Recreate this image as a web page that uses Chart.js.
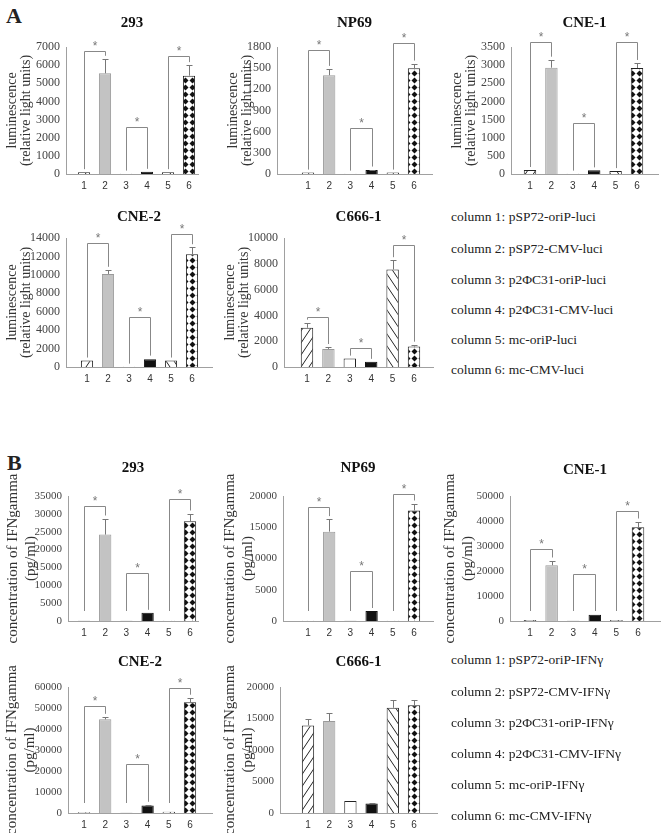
<!DOCTYPE html>
<html>
<head>
<meta charset="utf-8">
<script src="https://cdn.jsdelivr.net/npm/chart.js@4.4.0/dist/chart.umd.min.js"></script>
<style>
    body { margin: 0; background: #fff; }
    #fig { position: relative; width: 662px; height: 833px; overflow: hidden; color: #222;
           font-family: "Liberation Serif", "Times New Roman", serif; }
    #fig canvas { position: absolute; }
    .panel { position: absolute; font-weight: bold; font-size: 22px; line-height: 24px; }
    .leg { position: absolute; font-size: 13.5px; line-height: 16px; white-space: nowrap; }
</style>
</head>
<body>
<div id="fig"></div>
<script>
const cols = [1, 2, 3, 4, 5, 6];
const cellLines = ['293', 'NP69', 'CNE-1', 'CNE-2', 'C666-1'];
const bracketPairs = [[1, 2], [3, 4], [5, 6]];

// A: luciferase, relative light units
const luc293 = [100, 5550, 20, 120, 100, 5420];
const lucNP69 = [20, 1400, 5, 55, 20, 1500];
const lucCNE1 = [110, 2930, 10, 100, 80, 2920];
const lucCNE2 = [700, 10100, 40, 830, 700, 12250];
const lucC666 = [3040, 1400, 650, 400, 7560, 1580];
const lucErr293 = [0, 800, 0, 0, 0, 580];
const lucErrNP69 = [0, 90, 0, 8, 0, 65];
const lucErrCNE1 = [0, 220, 0, 0, 0, 140];
const lucErrCNE2 = [0, 450, 0, 80, 0, 750];
const lucErrC666 = [400, 150, 0, 0, 720, 150];
const lucSig293 = [6800, 2600, 6500];
const lucSigNP69 = [1760, 650, 1850];
const lucSigCNE1 = [3640, 1400, 3650];
const lucSigCNE2 = [13450, 5450, 14400];
const lucSigC666 = [3900, 1480, 9450];
const lucYMax = [7000, 1800, 3500, 14000, 10000];
const lucYStep = [1000, 300, 500, 2000, 2000];

// B: IFNgamma, pg/ml
const ifn293 = [50, 24200, 50, 2300, 100, 27900];
const ifnNP69 = [50, 14300, 30, 1600, 50, 17700];
const ifnCNE1 = [400, 22300, 100, 2500, 400, 37500];
const ifnCNE2 = [400, 44600, 100, 3600, 600, 52700];
const ifnC666 = [13900, 14600, 1900, 1500, 16700, 17100];
const ifnErr293 = [0, 4500, 0, 0, 0, 2200];
const ifnErrNP69 = [0, 2000, 0, 0, 0, 1100];
const ifnErrCNE1 = [0, 1900, 0, 0, 0, 2300];
const ifnErrCNE2 = [0, 1200, 0, 300, 0, 2200];
const ifnErrC666 = [1000, 1300, 0, 100, 1200, 900];
const ifnSig293 = [32300, 13500, 34300];
const ifnSigNP69 = [18200, 8000, 20400];
const ifnSigCNE1 = [29000, 19000, 44000];
const ifnSigCNE2 = [51000, 23500, 59500];
const ifnSigC666 = [];
const ifnYMax = [35000, 20000, 50000, 60000, 20000];
const ifnYStep = [5000, 5000, 10000, 10000, 5000];

const legendA = ['column 1: pSP72-oriP-luci', 'column 2: pSP72-CMV-luci', 'column 3: p2ΦC31-oriP-luci',
    'column 4: p2ΦC31-CMV-luci', 'column 5: mc-oriP-luci', 'column 6: mc-CMV-luci'];
const legendB = ['column 1: pSP72-oriP-IFNγ', 'column 2: pSP72-CMV-IFNγ', 'column 3: p2ΦC31-oriP-IFNγ',
    'column 4: p2ΦC31-CMV-IFNγ', 'column 5: mc-oriP-IFNγ', 'column 6: mc-CMV-IFNγ'];

const SERIF = '"Liberation Serif", "Times New Roman", serif';
const SANS = '"Liberation Sans", Arial, sans-serif';
const fig = document.getElementById('fig');

// page layout of each small chart (pixels)
const layoutA = [
    { left: 0,   ty: 23,  ct: 47,  cb: 174, cl: 66,  cr: 198, x1: 84,  x6: 189, yt: 12 },
    { left: 215, ty: 23,  ct: 47,  cb: 174, cl: 277, cr: 432, x1: 308, x6: 414, yt: 233 },
    { left: 440, ty: 23,  ct: 47,  cb: 174, cl: 511, cr: 658, x1: 530, x6: 637, yt: 457 },
    { left: 0,   ty: 217, ct: 238, cb: 367, cl: 66,  cr: 212, x1: 87,  x6: 192, yt: 12 },
    { left: 215, ty: 217, ct: 238, cb: 367, cl: 284, cr: 433, x1: 307, x6: 414, yt: 230 }
];
const layoutB = [
    { left: 0,   ty: 468, ct: 496, cb: 621, cl: 68,  cr: 198, x1: 84,  x6: 190, yt: 13 },
    { left: 215, ty: 468, ct: 496, cb: 621, cl: 283, cr: 433, x1: 308, x6: 414, yt: 230 },
    { left: 440, ty: 470, ct: 496, cb: 621, cl: 510, cr: 660, x1: 530, x6: 638, yt: 450 },
    { left: 0,   ty: 662, ct: 687, cb: 813, cl: 68,  cr: 212, x1: 84,  x6: 190, yt: 12 },
    { left: 215, ty: 662, ct: 687, cb: 813, cl: 280, cr: 437, x1: 308, x6: 414, yt: 230 }
];

function hatch(dir) {
    const c = document.createElement('canvas');
    c.width = 8; c.height = 12;
    const g = c.getContext('2d');
    g.fillStyle = '#fff';
    g.fillRect(0, 0, 8, 12);
    g.strokeStyle = '#222';
    g.lineWidth = 1;
    g.beginPath();
    for (const k of [-8, 0, 8]) {
        if (dir > 0) { g.moveTo(k, 12); g.lineTo(k + 8, 0); }
        else { g.moveTo(k, 0); g.lineTo(k + 8, 12); }
    }
    g.stroke();
    return g.createPattern(c, 'repeat');
}

function diamonds() {
    const c = document.createElement('canvas');
    c.width = 7; c.height = 7;
    const g = c.getContext('2d');
    g.fillStyle = '#fff';
    g.fillRect(0, 0, 7, 7);
    g.fillStyle = '#111';
    g.beginPath();
    g.moveTo(3.5, 0.5); g.lineTo(6.5, 3.5); g.lineTo(3.5, 6.5); g.lineTo(0.5, 3.5);
    g.closePath();
    g.fill();
    return g.createPattern(c, 'repeat');
}

const fills = [hatch(1), '#c3c3c3', '#fff', '#111', hatch(-1), diamonds()];
const edges = ['#222', '#9a9a9a', '#222', '#111', '#222', '#222'];

// error bars and significance brackets
const marksPlugin = {
    id: 'marks',
    afterDatasetsDraw(chart, args, opts) {
        const { ctx } = chart;
        const x = chart.scales.x, y = chart.scales.y;
        const ds = chart.data.datasets[0];
        const vals = ds.data.map(d => d.y);
        const err = ds.err;
        const zero = y.getPixelForValue(0);
        const px = c => Math.round(x.getPixelForValue(c)) + 0.5;
        ctx.save();
        ctx.lineWidth = 1;
        ctx.strokeStyle = '#777';
        err.forEach((e, i) => {
            if (!e) return;
            const xc = px(cols[i]);
            const y0 = y.getPixelForValue(vals[i]);
            const y1 = Math.round(y.getPixelForValue(vals[i] + e)) + 0.5;
            ctx.beginPath();
            ctx.moveTo(xc, y0); ctx.lineTo(xc, y1);
            ctx.moveTo(xc - 3, y1); ctx.lineTo(xc + 3, y1);
            ctx.stroke();
        });
        const legEnd = i => Math.min(y.getPixelForValue(vals[i] + err[i]) - opts.gap, zero - opts.minGap);
        ctx.strokeStyle = '#888';
        ctx.fillStyle = '#777';
        ctx.font = '12px ' + SANS;
        ctx.textAlign = 'center';
        ctx.textBaseline = 'middle';
        ds.sig.forEach((top, k) => {
            const [a, b] = bracketPairs[k];
            const xa = px(a), xb = px(b);
            const yt = Math.round(y.getPixelForValue(top)) + 0.5;
            ctx.beginPath();
            ctx.moveTo(xa, legEnd(a - 1));
            ctx.lineTo(xa, yt);
            ctx.lineTo(xb, yt);
            ctx.lineTo(xb, legEnd(b - 1));
            ctx.stroke();
            ctx.fillText('*', (xa + xb) / 2, yt - 5);
        });
        ctx.restore();
    }
};

function makeChart(p, title, vals, err, sig, yMax, yStep, yTitle, st) {
    const lh = 18;
    const top = p.ty - lh / 2;
    const padRight = 4;
    const xh = 26;
    const cv = document.createElement('canvas');
    cv.width = p.cr + padRight - p.left;
    cv.height = p.cb + xh - top;
    cv.style.left = p.left + 'px';
    cv.style.top = top + 'px';
    fig.appendChild(cv);

    const s = (p.x6 - p.x1) / 5;
    const xMin = 1 - (p.x1 - p.cl) / s;
    const xMax = 6 + (p.cr - p.x6) / s;

    new Chart(cv, {
        type: 'bar',
        data: {
            datasets: [{
                data: cols.map((c, i) => ({ x: c, y: vals[i] })),
                err,
                sig,
                backgroundColor: fills,
                borderColor: edges,
                borderWidth: 1,
                categoryPercentage: 1,
                barPercentage: 0.58
            }]
        },
        options: {
            responsive: false,
            animation: false,
            layout: { padding: { top: 0, left: 0, right: padRight, bottom: 0 } },
            plugins: {
                legend: { display: false },
                tooltip: { enabled: false },
                title: {
                    display: true, text: title, fullSize: false, color: '#111',
                    font: { family: SERIF, size: 15, weight: 'bold', lineHeight: 1.2 },
                    padding: { top: 0, bottom: p.ct - p.ty - lh / 2 }
                },
                marks: { gap: st.gap, minGap: st.minGap }
            },
            scales: {
                x: {
                    type: 'linear', min: xMin, max: xMax, offset: false,
                    grid: { display: false, drawTicks: false },
                    border: { color: '#a0a0a0' },
                    afterBuildTicks: sc => { sc.ticks = cols.map(v => ({ value: v })); },
                    afterFit: sc => { sc.height = xh; },
                    ticks: { font: { family: SANS, size: 10 }, color: '#333', padding: 6 }
                },
                y: {
                    min: 0, max: yMax,
                    grid: { display: false, drawTicks: false },
                    border: { color: '#a0a0a0' },
                    afterFit: sc => { sc.width = p.cl - p.left; },
                    ticks: {
                        stepSize: yStep, font: { family: SERIF, size: st.tick }, color: '#444', padding: 6,
                        callback: v => String(v)
                    },
                    title: {
                        display: true, text: yTitle, color: '#333',
                        font: { family: SERIF, size: st.title, lineHeight: st.titleLh },
                        padding: { top: p.yt - p.left - st.title * st.titleLh / 2, bottom: 0 }
                    }
                }
            }
        },
        plugins: [marksPlugin]
    });
}

function addText(cls, text, x, y) {
    const d = document.createElement('div');
    d.className = cls;
    d.textContent = text;
    d.style.left = x + 'px';
    d.style.top = y + 'px';
    fig.appendChild(d);
}

const styleA = { tick: 12, title: 14, titleLh: 1.05, gap: 3, minGap: 2 };
const styleB = { tick: 11, title: 15, titleLh: 1.2, gap: 3, minGap: 10 };

const lucVals = [luc293, lucNP69, lucCNE1, lucCNE2, lucC666];
const lucErrs = [lucErr293, lucErrNP69, lucErrCNE1, lucErrCNE2, lucErrC666];
const lucSigs = [lucSig293, lucSigNP69, lucSigCNE1, lucSigCNE2, lucSigC666];
const ifnVals = [ifn293, ifnNP69, ifnCNE1, ifnCNE2, ifnC666];
const ifnErrs = [ifnErr293, ifnErrNP69, ifnErrCNE1, ifnErrCNE2, ifnErrC666];
const ifnSigs = [ifnSig293, ifnSigNP69, ifnSigCNE1, ifnSigCNE2, ifnSigC666];

document.addEventListener('DOMContentLoaded', () => {
    addText('panel', 'A', 6, 4);
    addText('panel', 'B', 7, 451);
    cellLines.forEach((name, i) => {
        makeChart(layoutA[i], name, lucVals[i], lucErrs[i], lucSigs[i], lucYMax[i], lucYStep[i],
            ['luminescence', '(relative light units)'], styleA);
        makeChart(layoutB[i], name, ifnVals[i], ifnErrs[i], ifnSigs[i], ifnYMax[i], ifnYStep[i],
            ['concentration of IFNgamma', '(pg/ml)'], styleB);
    });
    const legYA = [217, 249, 280, 310, 340, 370];
    const legYB = [660, 692, 723, 754, 785, 816];
    legendA.forEach((t, i) => addText('leg', t, 451, legYA[i] - 8));
    legendB.forEach((t, i) => addText('leg', t, 451, legYB[i] - 8));
});
</script>
</body>
</html>
